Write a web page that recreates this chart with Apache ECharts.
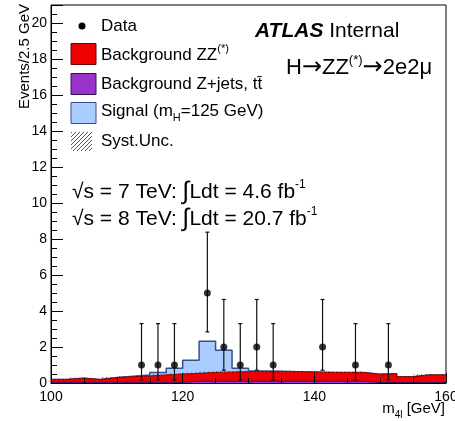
<!DOCTYPE html>
<html>
<head>
<meta charset="utf-8">
<script src="https://cdn.jsdelivr.net/npm/echarts@6/dist/echarts.min.js"></script>
<style>
    html, body { margin: 0; padding: 0; background: #fff; }
    #chart_m4l { width: 455px; height: 421px; }
</style>
</head>
<body>
<div id="chart_m4l"></div>
<script>
    // bin edges, 2.5 GeV
    var binEdges = [100, 102.5, 105, 107.5, 110, 112.5, 115, 117.5, 120, 122.5, 125, 127.5,
        130, 132.5, 135, 137.5, 140, 142.5, 145, 147.5, 150, 152.5, 155, 157.5, 160];
    // MC, events per bin
    var zjets = [0.04, 0.04, 0.04, 0.04, 0.04, 0.04, 0.04, 0.04, 0.10, 0.10, 0.10, 0.10,
        0.10, 0.10, 0.10, 0.10, 0.10, 0.10, 0.10, 0.03, 0.03, 0.03, 0.03, 0.03];
    var zz = [0.16, 0.23, 0.15, 0.26, 0.31, 0.35, 0.41, 0.46, 0.44, 0.49, 0.51, 0.53,
        0.53, 0.53, 0.53, 0.51, 0.49, 0.48, 0.48, 0.45, 0.49, 0.32, 0.42, 0.42];
    var signal = [0, 0, 0, 0, 0.02, 0.05, 0.14, 0.32, 0.72, 1.73, 1.21, 0.19,
        0.04, 0.02, 0, 0, 0, 0, 0, 0, 0, 0, 0, 0];
    var sysUnc = [0.02, 0.03, 0.02, 0.03, 0.03, 0.03, 0.04, 0.04, 0.04, 0.05, 0.05, 0.05,
        0.05, 0.05, 0.05, 0.05, 0.05, 0.05, 0.05, 0.04, 0.04, 0.03, 0.04, 0.04];
    // data points
    var dataX = [113.75, 116.25, 118.75, 123.75, 126.25, 128.75, 131.25, 133.75, 141.25, 146.25, 151.25];
    var dataY = [1, 1, 1, 5, 2, 1, 2, 1, 2, 1, 1];
    var dataLow = [0.17, 0.17, 0.17, 2.84, 0.71, 0.17, 0.71, 0.17, 0.71, 0.17, 0.17];
    var dataHigh = [3.30, 3.30, 3.30, 8.38, 4.64, 3.30, 4.64, 3.30, 4.64, 3.30, 3.30];

    var FONT = 'Liberation Sans';

    // stack by hand, drawn like THStack: total first, then the lower ones over it
    var bgTotal = [], sigTotal = [];
    for (var n = 0; n < zz.length; n++) {
        bgTotal.push(zjets[n] + zz[n]);
        sigTotal.push(zjets[n] + zz[n] + signal[n]);
    }

    function stepData(vals) {
        var out = [];
        for (var i = 0; i < vals.length; i++) out.push([binEdges[i], vals[i]]);
        out.push([binEdges[vals.length], vals[vals.length - 1]]);
        return out;
    }

    // hatch pattern for syst. band
    var hatch = document.createElement('canvas');
    hatch.width = 4; hatch.height = 4;
    var hc = hatch.getContext('2d');
    hc.strokeStyle = '#555';
    hc.lineWidth = 1;
    hc.beginPath();
    hc.moveTo(0, 4); hc.lineTo(4, 0);
    hc.moveTo(-1, 1); hc.lineTo(1, -1);
    hc.moveTo(3, 5); hc.lineTo(5, 3);
    hc.stroke();
    var hatchFill = {image: hatch, repeat: 'repeat'};

    var sysData = [];
    for (var i = 0; i < zz.length; i++) {
        sysData.push([binEdges[i], binEdges[i + 1], bgTotal[i], sysUnc[i]]);
    }
    var errData = [];
    for (var j = 0; j < dataX.length; j++) {
        errData.push([dataX[j], dataLow[j], dataHigh[j]]);
    }
    var pts = [];
    for (var k = 0; k < dataX.length; k++) pts.push([dataX[k], dataY[k]]);

    function histSeries(name, vals, fill, edge, width, z) {
        return {
            name: name, type: 'line', step: 'end', symbol: 'none', z: z,
            data: stepData(vals),
            lineStyle: {color: edge, width: width},
            areaStyle: {color: fill, opacity: 1, origin: 'start'}
        };
    }

    var chart = echarts.init(document.getElementById('chart_m4l'));

    var option = {
        animation: false,
        backgroundColor: '#fff',
        grid: {
            left: 51, right: 9, top: 5, bottom: 38,
            show: true, borderColor: '#000', borderWidth: 1, backgroundColor: 'transparent',
            outerBoundsMode: 'none'
        },
        xAxis: {
            type: 'value', min: 100, max: 160, interval: 20, z: 10,
            axisLine: {onZero: false, lineStyle: {color: '#000', width: 1}},
            axisTick: {inside: true, length: 10, lineStyle: {color: '#000'}},
            minorTick: {show: true, splitNumber: 4, length: 5, lineStyle: {color: '#000'}},
            splitLine: {show: false},
            axisLabel: {color: '#000', fontSize: 14, fontFamily: FONT, margin: 7}
        },
        yAxis: {
            type: 'value', min: 0, max: 21, interval: 2, z: 10,
            axisLine: {onZero: false, lineStyle: {color: '#000', width: 1}},
            axisTick: {inside: true, length: 12, lineStyle: {color: '#000'}},
            minorTick: {show: true, splitNumber: 4, length: 6, lineStyle: {color: '#000'}},
            splitLine: {show: false},
            axisLabel: {color: '#000', fontSize: 14, fontFamily: FONT, margin: 4, showMaxLabel: false}
        },
        series: [
            histSeries('Signal', sigTotal, '#aaccff', '#34508a', 1.5, 1),
            histSeries('Background ZZ(*)', bgTotal, '#ee0000', '#7a0000', 1, 2),
            histSeries('Background Z+jets, tt', zjets, '#9933cc', '#3c1456', 1, 3),
            {
                name: 'Syst.Unc.', type: 'custom', z: 4,
                encode: {x: [0, 1], y: 2},
                data: sysData,
                renderItem: function (params, api) {
                    var p1 = api.coord([api.value(0), api.value(2) + api.value(3)]);
                    var p2 = api.coord([api.value(1), api.value(2) - api.value(3)]);
                    return {
                        type: 'rect',
                        shape: {x: p1[0], y: p1[1], width: p2[0] - p1[0], height: Math.max(p2[1] - p1[1], 1)},
                        style: {fill: hatchFill}
                    };
                }
            },
            {
                name: 'err', type: 'custom', z: 5,
                encode: {x: 0, y: [1, 2]},
                data: errData,
                renderItem: function (params, api) {
                    var lo = api.coord([api.value(0), api.value(1)]);
                    var hi = api.coord([api.value(0), api.value(2)]);
                    var st = {stroke: '#111', lineWidth: 1.2};
                    return {
                        type: 'group',
                        children: [
                            {type: 'line', shape: {x1: lo[0], y1: lo[1], x2: hi[0], y2: hi[1]}, style: st},
                            {type: 'line', shape: {x1: hi[0] - 2, y1: hi[1], x2: hi[0] + 2, y2: hi[1]}, style: st},
                            {type: 'line', shape: {x1: lo[0] - 2, y1: lo[1], x2: lo[0] + 2, y2: lo[1]}, style: st}
                        ]
                    };
                }
            },
            {
                name: 'Data', type: 'scatter', z: 6, data: pts,
                symbol: 'circle', symbolSize: 7,
                itemStyle: {color: '#000'}
            }
        ],
        graphic: [
            // axis titles
            {type: 'text', x: 25, y: 4, rotation: Math.PI / 2,
                style: {text: 'Events/2.5 GeV', font: '15px ' + FONT, fill: '#000', align: 'right', verticalAlign: 'middle'}},
            {type: 'text', x: 445, y: 409,
                style: {text: 'm{sub|4l} [GeV]', font: '15px ' + FONT, fill: '#000', align: 'right', verticalAlign: 'middle', lineHeight: 22,
                    rich: {sub: {fontSize: 10, fontFamily: FONT, lineHeight: 10, verticalAlign: 'bottom'}}}},
            // legend
            {type: 'circle', shape: {cx: 82, cy: 26, r: 3.5}, style: {fill: '#000'}},
            {type: 'text', x: 101, y: 26, style: {text: 'Data', font: '17px ' + FONT, fill: '#000', verticalAlign: 'middle'}},
            {type: 'rect', shape: {x: 71, y: 43.5, width: 25, height: 21}, style: {fill: '#ee0000', stroke: '#6b0000', lineWidth: 1}},
            {type: 'text', x: 101, y: 55,
                style: {text: 'Background ZZ{sup|(*)}', font: '17px ' + FONT, fill: '#000', verticalAlign: 'middle', lineHeight: 24,
                    rich: {sup: {fontSize: 11, fontFamily: FONT, lineHeight: 11, verticalAlign: 'top'}}}},
            {type: 'rect', shape: {x: 71, y: 73.5, width: 25, height: 21}, style: {fill: '#9933cc', stroke: '#3c1456', lineWidth: 1}},
            {type: 'text', x: 101, y: 84,
                style: {text: 'Background Z+jets, tt\u0304', font: '17px ' + FONT, fill: '#000', verticalAlign: 'middle'}},
            {type: 'rect', shape: {x: 71, y: 102.5, width: 25, height: 21}, style: {fill: '#aaccff', stroke: '#34508a', lineWidth: 1}},
            {type: 'text', x: 101, y: 111,
                style: {text: 'Signal (m{sub|H}=125 GeV)', font: '17px ' + FONT, fill: '#000', verticalAlign: 'middle', lineHeight: 24,
                    rich: {sub: {fontSize: 11, fontFamily: FONT, lineHeight: 11, verticalAlign: 'bottom'}}}},
            {type: 'rect', shape: {x: 71, y: 132, width: 21, height: 19}, style: {fill: hatchFill}},
            {type: 'text', x: 101, y: 141, style: {text: 'Syst.Unc.', font: '17px ' + FONT, fill: '#000', verticalAlign: 'middle'}},
            // labels
            {type: 'text', x: 255, y: 31,
                style: {text: '{b|ATLAS} Internal', font: '21px ' + FONT, fill: '#000', verticalAlign: 'middle',
                    rich: {b: {fontSize: 21, fontFamily: FONT, fontWeight: 'bold', fontStyle: 'italic'}}}},
            {type: 'text', x: 286, y: 68,
                style: {text: 'H{ar|\u2192}ZZ{sup|(*)}{ar|\u2192}2e2\u03bc', font: '22px ' + FONT, fill: '#000', verticalAlign: 'middle', lineHeight: 28,
                    rich: {
                        ar: {fontSize: 24, fontFamily: 'DejaVu Sans'},
                        sup: {fontSize: 13, fontFamily: FONT, lineHeight: 13, verticalAlign: 'top'}
                    }}},
            {type: 'text', x: 72, y: 192,
                style: {text: '\u221As = 7 TeV: {int|\u222B}Ldt = 4.6 fb{sup|-1}', font: '21px ' + FONT, fill: '#000', verticalAlign: 'middle', lineHeight: 26,
                    rich: {int: {fontSize: 25, fontFamily: FONT}, sup: {fontSize: 12, fontFamily: FONT, lineHeight: 12, verticalAlign: 'top'}}}},
            {type: 'text', x: 72, y: 219,
                style: {text: '\u221As = 8 TeV: {int|\u222B}Ldt = 20.7 fb{sup|-1}', font: '21px ' + FONT, fill: '#000', verticalAlign: 'middle', lineHeight: 26,
                    rich: {int: {fontSize: 25, fontFamily: FONT}, sup: {fontSize: 12, fontFamily: FONT, lineHeight: 12, verticalAlign: 'top'}}}}
        ]
    };
    chart.setOption(option);
</script>
</body>
</html>
